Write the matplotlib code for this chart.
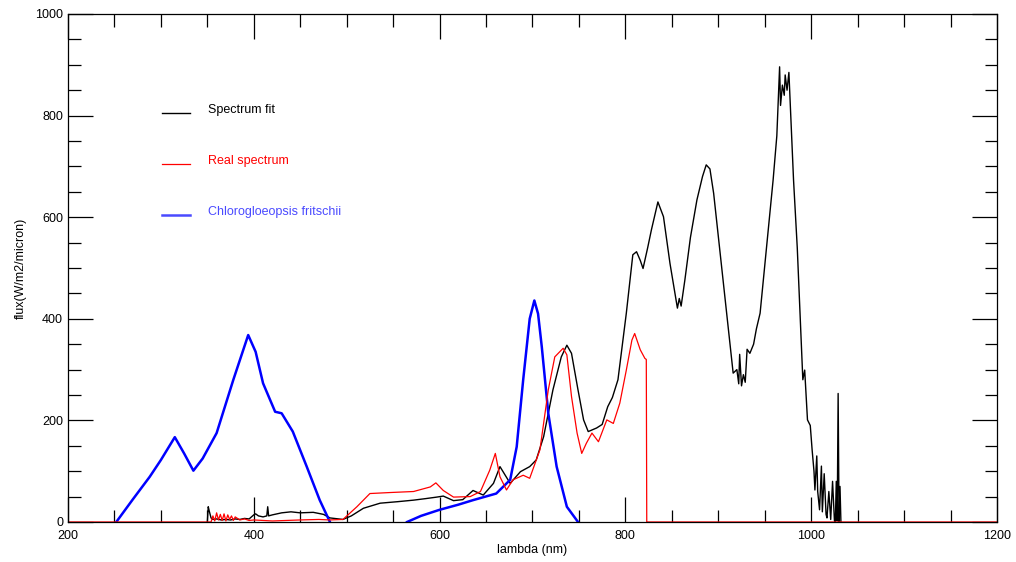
import matplotlib
matplotlib.use("Agg")
import matplotlib.pyplot as plt
from matplotlib.ticker import MultipleLocator
import numpy as np

plt.rcParams['font.family'] = ['Liberation Sans', 'DejaVu Sans']

# Spectrum fit (black), noise spikes included as points
fit_nm = [350, 351, 352, 354, 356, 360, 365, 370, 375, 380, 385, 390, 395, 400, 402, 405,
          410, 414, 415, 416, 420, 430, 440, 450, 464, 475, 482, 496, 505, 518, 536, 555,
          572, 585, 597, 604, 615, 625, 636, 647, 658, 665, 676, 687, 697, 704, 712, 722,
          731, 737, 742, 749, 755, 760, 769, 775, 781, 786, 792, 801, 808, 812, 816, 819,
          824, 828, 835, 841, 848, 856, 858, 860, 864, 870, 877, 883, 887, 891, 895, 902,
          909, 916, 920, 922, 923, 925, 927, 929, 931, 934, 938, 941, 945, 952, 959, 963,
          966, 967, 969, 971, 972, 974, 976, 978, 981, 985, 988, 991, 993, 996, 999, 1001,
          1003, 1004, 1006, 1007, 1009, 1011, 1012, 1014, 1016, 1017, 1019, 1021, 1023,
          1025, 1026, 1027, 1028, 1029, 1030, 1031, 1032]
fit_flux = [0, 30, 22, 8, 5, 6, 4, 5, 4, 6, 5, 7, 6, 14, 16, 12,
            10, 12, 30, 12, 14, 18, 20, 18, 19, 15, 8, 5, 12, 27, 37, 40,
            43, 46, 49, 51, 42, 44, 62, 53, 76, 109, 76, 99, 109, 122, 168, 260,
            325, 348, 332, 260, 201, 178, 185, 192, 227, 245, 280, 411, 526, 532, 515, 499,
            540, 575, 630, 601, 509, 421, 440, 425, 476, 560, 634, 680, 703, 695, 647, 529,
            411, 293, 300, 272, 330, 268, 290, 275, 340, 332, 350, 380, 411, 542, 673, 760,
            896, 820, 860, 840, 880, 850, 885, 800, 673, 540, 411, 280, 299, 201, 190, 142,
            100, 63, 130, 60, 24, 110, 20, 95, 15, 8, 60, 5, 80, 3, 0, 80, 2, 253, 0, 70, 0]

# Real spectrum (red)
real_nm = [200, 354, 356, 358, 360, 362, 364, 366, 368, 370, 372, 374, 376, 378, 380,
           385, 390, 395, 400, 410, 420, 450, 470, 482, 496, 511, 525, 547, 572, 590,
           596, 604, 615, 633, 644, 654, 660, 665, 672, 679, 690, 697, 708, 717, 724,
           733, 737, 742, 748, 753, 758, 764, 771, 780, 787, 794, 801, 807, 810, 816,
           821, 822.5, 823, 1200]
real_flux = [0, 0, 12, 2, 18, 4, 15, 3, 16, 2, 14, 5, 12, 3, 10,
             4, 6, 3, 4, 3, 2, 4, 5, 4, 5, 30, 56, 58, 60, 69,
             77, 62, 49, 50, 60, 102, 135, 89, 63, 83, 92, 86, 142, 260, 325,
             342, 329, 247, 175, 135, 155, 175, 158, 201, 194, 234, 299, 358, 371, 339,
             322, 320, 0, 0]

# Chlorogloeopsis fritschii (blue), two segments
chl_nm_a = [252, 270, 288, 300, 315, 325, 335, 345, 360, 378, 394, 402, 410,
            423, 430, 442, 457, 471, 482]
chl_flux_a = [0, 45, 89, 122, 167, 135, 101, 125, 175, 280, 368, 335, 273,
              217, 214, 178, 109, 43, 0]
chl_nm_b = [565, 580, 600, 620, 636, 661, 676, 683, 690, 697, 702, 706, 710,
            717, 726, 737, 749]
chl_flux_b = [0, 12, 24, 34, 43, 56, 83, 148, 280, 400, 436, 410, 345,
              214, 109, 30, 0]

fig = plt.figure(figsize=(10.16, 5.62), dpi=100)
ax = fig.add_axes([0.0669, 0.0712, 0.9144, 0.9039])

ax.plot(fit_nm, fit_flux, color='black', lw=1.0)
ax.plot(chl_nm_a, chl_flux_a, color='#0000ff', lw=1.8)
ax.plot(chl_nm_b, chl_flux_b, color='#0000ff', lw=1.8)
ax.plot(real_nm, real_flux, color='#ff0000', lw=0.9)

ax.set_xlim(200, 1200)
ax.set_ylim(0, 1000)
ax.xaxis.set_major_locator(MultipleLocator(200))
ax.xaxis.set_minor_locator(MultipleLocator(50))
ax.yaxis.set_major_locator(MultipleLocator(200))
ax.yaxis.set_minor_locator(MultipleLocator(50))
ax.tick_params(which='both', direction='in', top=True, right=True, labelsize=9, width=0.9)
ax.tick_params(which='major', length=18)
ax.tick_params(which='minor', length=9)
ax.tick_params(axis='x', pad=6)
for s in ax.spines.values():
    s.set_linewidth(0.9)

ax.set_xlabel("lambda (nm)", fontsize=9, labelpad=1)
ax.set_ylabel("flux(W/m2/micron)", fontsize=9, labelpad=6)

# hand-drawn legend, IDL style
legend_items = [("Spectrum fit", 'black', 1.0, 0.805),
                ("Real spectrum", '#ff0000', 0.9, 0.705),
                ("Chlorogloeopsis fritschii", '#4a4aff', 1.8, 0.604)]
for label, col, lw, yy in legend_items:
    ax.plot([0.101, 0.131], [yy, yy], color=col, lw=lw, transform=ax.transAxes)
    ax.text(0.151, yy + 0.006, label, color=col, fontsize=9, va='center', ha='left',
            transform=ax.transAxes)

fig.savefig("out.png", dpi=100)
